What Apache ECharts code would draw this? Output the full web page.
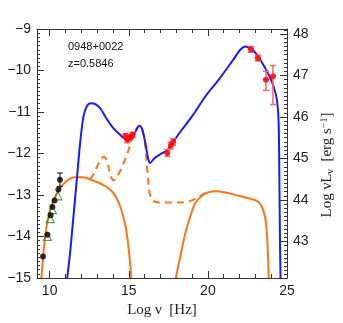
<!DOCTYPE html>
<html><head><meta charset="utf-8">
<script src="https://cdn.jsdelivr.net/npm/echarts@6/dist/echarts.min.js"></script>
<style>html,body{margin:0;padding:0;background:#fff}#c{width:343px;height:323px}</style>
</head><body><div id="c"></div>
<script>
// ---- data ----
const xMajor = [10, 15, 20, 25];
const xMinor = [10,11,12,13,14,15,16,17,18,19,20,21,22,23,24,25];
const yRightMajor = [43, 44, 45, 46, 47, 48];

const blueCurve = [[11.11,-15.0],[11.30,-14.36],[11.51,-13.49],[11.72,-12.61],[11.93,-11.73],[12.14,-11.10],[12.35,-10.86],[12.62,-10.79],[12.94,-10.82],[13.25,-10.94],[13.56,-11.14],[13.98,-11.37],[14.40,-11.53],[14.82,-11.65],[15.14,-11.65],[15.45,-11.45],[15.66,-11.33],[15.83,-11.40],[16.04,-11.73],[16.23,-12.13],[16.35,-12.23],[16.60,-12.12],[17.02,-12.01],[17.44,-11.92],[17.86,-11.69],[18.39,-11.41],[19.01,-11.10],[19.85,-10.62],[20.69,-10.22],[21.53,-9.78],[22.05,-9.50],[22.37,-9.42],[22.79,-9.49],[23.31,-9.74],[23.84,-10.10],[24.15,-10.38],[24.36,-10.70],[24.47,-11.25],[24.51,-12.29],[24.55,-13.88],[24.59,-15.0]];
const syncCurve = [[9.48,-15.0],[9.58,-14.52],[9.73,-13.96],[9.90,-13.57],[10.10,-13.29],[10.31,-13.07],[10.63,-12.85],[11.05,-12.67],[11.57,-12.57],[12.10,-12.57],[12.73,-12.65],[13.35,-12.75],[13.88,-12.89],[14.19,-13.05],[14.51,-13.33],[14.78,-13.73],[14.99,-14.28],[15.16,-15.0]];
const dashedCurve = [[12.52,-12.61],[12.73,-12.53],[12.98,-12.33],[13.25,-12.13],[13.42,-12.08],[13.61,-12.17],[13.82,-12.49],[14.03,-12.65],[14.30,-12.53],[14.61,-12.29],[14.93,-11.97],[15.20,-11.65],[15.45,-11.43],[15.66,-11.33],[15.87,-11.43],[16.04,-11.81],[16.18,-12.45],[16.33,-12.97],[16.50,-13.13],[16.92,-13.18],[17.76,-13.18],[18.60,-13.17],[19.22,-13.09],[19.75,-12.97],[20.06,-12.91]];
const icCurve = [[17.97,-15.0],[18.28,-14.44],[18.60,-13.88],[18.91,-13.49],[19.22,-13.18],[19.64,-13.01],[20.06,-12.93],[20.48,-12.91],[21.11,-12.94],[21.95,-13.02],[22.79,-13.10],[23.21,-13.17],[23.46,-13.33],[23.63,-13.57],[23.75,-14.04],[23.84,-15.0]];

const radioX = [9.58, 9.86, 10.06, 10.17, 10.31, 10.55, 10.65];
const radioY = [-14.48, -13.96, -13.49, -13.29, -13.13, -12.87, -12.63];
const radioYErr = [0, 0, 0, 0, 0, 0, 0.16];
const triX = [9.86, 10.04, 10.17, 10.52];
const triY = [-14.00, -13.57, -13.35, -13.02];

const redX = [14.78, 14.90, 15.00, 15.12, 15.24, 17.44, 17.65, 17.80, 22.72, 23.16, 23.67, 24.11];
const redY = [-11.58, -11.66, -11.63, -11.60, -11.55, -11.99, -11.81, -11.72, -9.49, -9.70, -10.22, -10.14];
const redXErr = [0.07, 0.07, 0.07, 0.07, 0.07, 0.1, 0.1, 0.1, 0.2, 0.2, 0.2, 0.2];
const redYErrLo = [0.06, 0.08, 0.06, 0.06, 0.06, 0.08, 0.08, 0.08, 0.07, 0.07, 0.26, 0.68];
const redYErrHi = [0.06, 0.06, 0.06, 0.06, 0.06, 0.08, 0.08, 0.08, 0.07, 0.07, 0.20, 0.26];

// ---- build ----
const yRightMinor = [];
for (let i = 422; i <= 481; i++) yRightMinor.push(i / 10);

const radioPts = radioX.map((x, i) => [x, radioY[i]]);
const radioErr = radioX.map((x, i) => [x, radioY[i], 0, radioYErr[i], radioYErr[i]]).filter(d => d[3] > 0);
const triPts = triX.map((x, i) => [x, triY[i]]);
const redPts = redX.map((x, i) => [x, redY[i]]);
const redErr = redX.map((x, i) => [x, redY[i], redXErr[i], redYErrLo[i], redYErrHi[i]]);

function errRender(color, cap, w) {
  return function (params, api) {
    const x = api.value(0), y = api.value(1), dx = api.value(2), lo = api.value(3), hi = api.value(4);
    const c = api.coord([x, y]);
    const l = api.coord([x - dx, y]), r = api.coord([x + dx, y]);
    const t = api.coord([x, y + hi]), b = api.coord([x, y - lo]);
    const st = { stroke: color, lineWidth: w };
    const ch = [];
    if (dx > 0) {
      ch.push({ type: 'line', shape: { x1: l[0], y1: c[1], x2: r[0], y2: c[1] }, style: st });
    }
    if (lo > 0 || hi > 0) {
      ch.push({ type: 'line', shape: { x1: c[0], y1: t[1], x2: c[0], y2: b[1] }, style: st });
      ch.push({ type: 'line', shape: { x1: c[0] - cap, y1: t[1], x2: c[0] + cap, y2: t[1] }, style: st });
      ch.push({ type: 'line', shape: { x1: c[0] - cap, y1: b[1], x2: c[0] + cap, y2: b[1] }, style: st });
    }
    return { type: 'group', children: ch };
  };
}

const axisCol = '#333';
const lblFont = { fontFamily: 'Liberation Sans', fontSize: 14, color: '#222' };
const xBase = { type: 'value', min: 9.2, max: 25, gridIndex: 0, splitLine: { show: false } };

const chart = echarts.init(document.getElementById('c'), null, { renderer: 'canvas' });
chart.setOption({
  animation: false,
  backgroundColor: '#fff',
  grid: { left: 37, right: 56, top: 29, bottom: 43 },
  xAxis: [
    Object.assign({}, xBase, {
      position: 'bottom',
      axisLine: { show: true, onZero: false, lineStyle: { color: axisCol } },
      axisTick: { inside: true, length: 7, customValues: xMajor, lineStyle: { color: axisCol } },
      axisLabel: Object.assign({ customValues: xMajor, margin: 6 }, lblFont),
      name: 'Log ν  [Hz]', nameLocation: 'middle', nameGap: 25,
      nameTextStyle: { fontFamily: 'Liberation Serif', fontSize: 15, color: '#222' }
    }),
    Object.assign({}, xBase, {
      position: 'bottom',
      axisLine: { show: false, onZero: false },
      axisTick: { inside: true, length: 4, customValues: xMinor, lineStyle: { color: axisCol } },
      axisLabel: { show: false }
    }),
    Object.assign({}, xBase, {
      position: 'top',
      axisLine: { show: true, onZero: false, lineStyle: { color: axisCol } },
      axisTick: { inside: true, length: 7, customValues: xMajor, lineStyle: { color: axisCol } },
      axisLabel: { show: false }
    }),
    Object.assign({}, xBase, {
      position: 'top',
      axisLine: { show: false, onZero: false },
      axisTick: { inside: true, length: 4, customValues: xMinor, lineStyle: { color: axisCol } },
      axisLabel: { show: false }
    })
  ],
  yAxis: [
    {
      type: 'value', min: -15, max: -9, interval: 1, position: 'left',
      splitLine: { show: false },
      axisLine: { show: true, onZero: false, lineStyle: { color: axisCol } },
      axisTick: { show: true, inside: true, length: 7, lineStyle: { color: axisCol } },
      minorTick: { show: true, splitNumber: 10, length: 3, lineStyle: { color: axisCol } },
      axisLabel: Object.assign({ margin: 6, formatter: v => String(v).replace('-', '\u2212') }, lblFont)
    },
    {
      type: 'value', min: 42.12, max: 48.12, position: 'right',
      splitLine: { show: false },
      axisLine: { show: true, onZero: false, lineStyle: { color: axisCol } },
      axisTick: { show: true, inside: true, length: 7, customValues: yRightMajor, lineStyle: { color: axisCol } },
      axisLabel: Object.assign({ margin: 6, customValues: yRightMajor }, lblFont)
    },
    {
      type: 'value', min: 42.12, max: 48.12, position: 'right',
      splitLine: { show: false },
      axisLine: { show: false, onZero: false },
      axisTick: { show: true, inside: true, length: 3, customValues: yRightMinor, lineStyle: { color: axisCol } },
      axisLabel: { show: false }
    }
  ],
  series: [
    { type: 'line', data: syncCurve, smooth: 0.35, showSymbol: false, lineStyle: { color: '#ff7417', width: 2 }, z: 2 },
    { type: 'line', data: dashedCurve, smooth: 0.35, showSymbol: false, lineStyle: { color: '#ff7417', width: 2, type: [7, 5] }, z: 2 },
    { type: 'line', data: icCurve, smooth: 0.35, showSymbol: false, lineStyle: { color: '#ff7417', width: 2 }, z: 2 },
    { type: 'line', data: blueCurve, smooth: 0.3, showSymbol: false, lineStyle: { color: '#1a1aff', width: 2 }, z: 3 },
    { type: 'custom', data: redErr, renderItem: errRender('#ff6464', 3, 1.5), z: 4, clip: true },
    { type: 'scatter', data: redPts, symbol: 'circle', symbolSize: 6, itemStyle: { color: '#ff0000' }, z: 5 },
    { type: 'custom', data: radioErr, renderItem: errRender('#111', 3, 1), z: 4, clip: true },
    { type: 'scatter', data: triPts, symbol: 'triangle', symbolSize: 8, itemStyle: { color: 'rgba(0,0,0,0)', borderColor: '#2e8b2e', borderWidth: 1.2 }, z: 5 },
    { type: 'scatter', data: radioPts, symbol: 'circle', symbolSize: 6, itemStyle: { color: '#000' }, z: 6 }
  ],
  graphic: [
    { type: 'text', left: 68, top: 41, style: { text: '0948+0022', font: '11px "Liberation Sans"', fill: '#111' } },
    { type: 'text', left: 68, top: 58, style: { text: 'z=0.5846', font: '11px "Liberation Sans"', fill: '#111' } },
    { type: 'text', x: 327, y: 165, rotation: Math.PI / 2,
      style: {
        text: 'Log νL{s|ν}  [erg s{p|−1}]', align: 'center', verticalAlign: 'middle',
        font: '15px "Liberation Serif"', fill: '#222',
        rich: {
          s: { fontFamily: 'Liberation Serif', fontSize: 10, verticalAlign: 'bottom', padding: [6, 0, 0, 0] },
          p: { fontFamily: 'Liberation Serif', fontSize: 10, verticalAlign: 'top', padding: [0, 0, 6, 0] }
        }
      } }
  ]
});
</script>
</body></html>
